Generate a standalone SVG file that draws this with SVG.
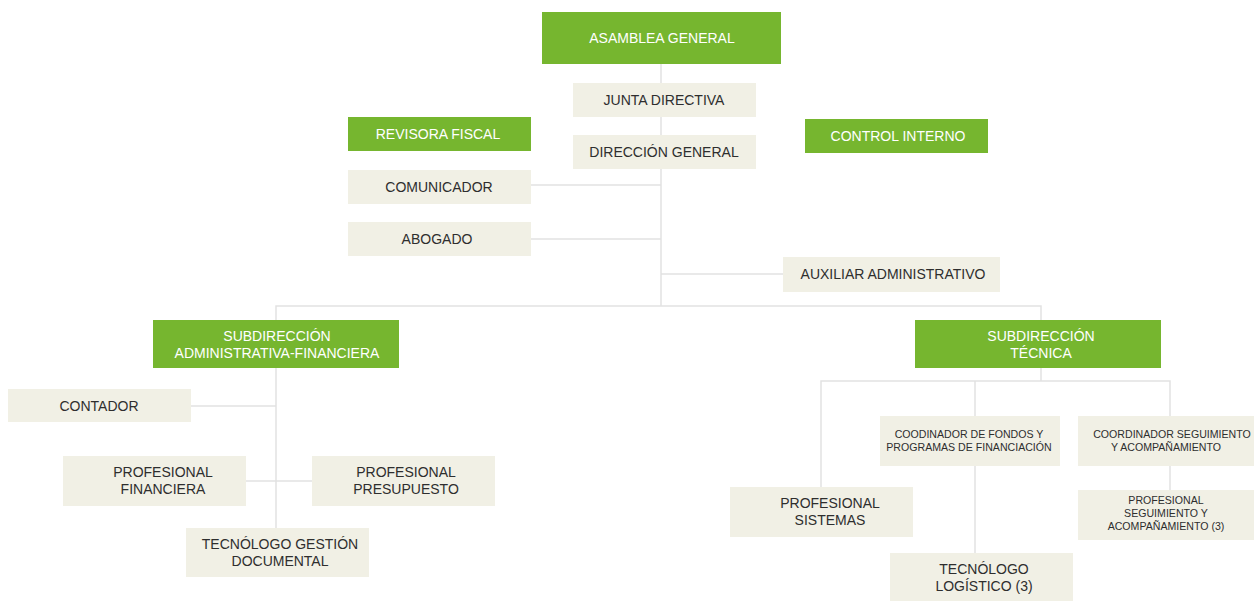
<svg xmlns="http://www.w3.org/2000/svg" width="1254" height="601" viewBox="0 0 1254 601">
<style>
.g{fill:#76b62f}
.b{fill:#f1f0e5}
.t{font-family:"Liberation Sans",Arial,sans-serif;font-size:14px;fill:#2e2e2e;text-anchor:middle}
.w{fill:#fff}
.s{font-size:10.6px}
.c{stroke:#e2e2e2;stroke-width:1.5;fill:none}
</style>
<rect width="1254" height="601" fill="#fff"/>
<g id="connectors" class="c">
<path d="M661 64V306M531 185H661M531 239H661M661 274H783"/>
<path d="M276 320V306H1041V320"/>
<path d="M276 368V528M191 406H276M246 481H312"/>
<path d="M1041 368V381M821 487V381H1170V416M975 381V416M975 466V553M1170 466V490"/>
</g>
<g id="asamblea"><rect class="g" x="542" y="12" width="239" height="52"/><text class="t w" x="662" y="43">ASAMBLEA GENERAL</text></g>
<g id="junta"><rect class="b" x="573" y="83" width="183" height="34"/><text class="t" x="664" y="105">JUNTA DIRECTIVA</text></g>
<g id="direccion"><rect class="b" x="573" y="135" width="183" height="34"/><text class="t" x="664" y="157">DIRECCIÓN GENERAL</text></g>
<g id="revisora"><rect class="g" x="348" y="117" width="183" height="34"/><text class="t w" x="438" y="139">REVISORA FISCAL</text></g>
<g id="control"><rect class="g" x="805" y="119" width="183" height="34"/><text class="t w" x="898" y="141">CONTROL INTERNO</text></g>
<g id="comunicador"><rect class="b" x="348" y="170" width="183" height="34"/><text class="t" x="439" y="192">COMUNICADOR</text></g>
<g id="abogado"><rect class="b" x="348" y="222" width="183" height="34"/><text class="t" x="437" y="244">ABOGADO</text></g>
<g id="auxiliar"><rect class="b" x="783" y="257" width="217" height="35"/><text class="t" x="893" y="279">AUXILIAR ADMINISTRATIVO</text></g>
<g id="subadmin"><rect class="g" x="153" y="320" width="246" height="48"/><text class="t w" x="277" y="341">SUBDIRECCIÓN</text><text class="t w" x="277" y="358">ADMINISTRATIVA-FINANCIERA</text></g>
<g id="subtecnica"><rect class="g" x="915" y="320" width="246" height="48"/><text class="t w" x="1041" y="341">SUBDIRECCIÓN</text><text class="t w" x="1041" y="358">TÉCNICA</text></g>
<g id="contador"><rect class="b" x="8" y="389" width="183" height="33"/><text class="t" x="99" y="411">CONTADOR</text></g>
<g id="profinanciera"><rect class="b" x="63" y="456" width="183" height="50"/><text class="t" x="163" y="477">PROFESIONAL</text><text class="t" x="163" y="494">FINANCIERA</text></g>
<g id="propresupuesto"><rect class="b" x="312" y="456" width="183" height="50"/><text class="t" x="406" y="477">PROFESIONAL</text><text class="t" x="406" y="494">PRESUPUESTO</text></g>
<g id="tecdocumental"><rect class="b" x="186" y="528" width="183" height="49"/><text class="t" x="280" y="549">TECNÓLOGO GESTIÓN</text><text class="t" x="280" y="566">DOCUMENTAL</text></g>
<g id="coordfondos"><rect class="b" x="880" y="416" width="180" height="50"/><text class="t s" x="969" y="438">COODINADOR DE FONDOS Y</text><text class="t s" x="969" y="451">PROGRAMAS DE FINANCIACIÓN</text></g>
<g id="coordseg"><rect class="b" x="1078" y="416" width="176" height="50"/><text class="t s" x="1172" y="438">COORDINADOR SEGUIMIENTO</text><text class="t s" x="1166" y="451">Y ACOMPAÑAMIENTO</text></g>
<g id="prosistemas"><rect class="b" x="730" y="487" width="183" height="50"/><text class="t" x="830" y="508">PROFESIONAL</text><text class="t" x="830" y="525">SISTEMAS</text></g>
<g id="teclogistico"><rect class="b" x="890" y="553" width="183" height="48"/><text class="t" x="984" y="574">TECNÓLOGO</text><text class="t" x="984" y="591">LOGÍSTICO (3)</text></g>
<g id="proseg"><rect class="b" x="1078" y="490" width="176" height="50"/><text class="t s" x="1166" y="504">PROFESIONAL</text><text class="t s" x="1166" y="517">SEGUIMIENTO Y</text><text class="t s" x="1166" y="530">ACOMPAÑAMIENTO (3)</text></g>
</svg>
